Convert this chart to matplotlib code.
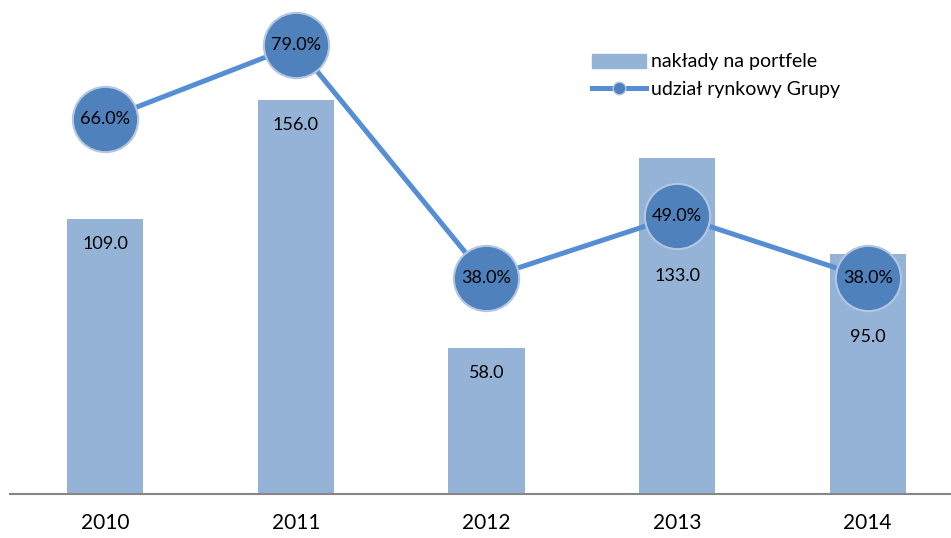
import numpy as np
import matplotlib.pyplot as plt
from matplotlib.lines import Line2D
from matplotlib.patches import Patch

plt.rcParams['font.family'] = ['Lato', 'DejaVu Sans']

years = ['2010', '2011', '2012', '2013', '2014']
spending = [109.0, 156.0, 58.0, 133.0, 95.0]
share = [66.0, 79.0, 38.0, 49.0, 38.0]
# shift of bar labels below bar top (points)
label_drop = [18, 18, 18, 85, 60]

bar_color = '#95B3D7'
line_color = '#558ED5'
dot_color = '#4F81BD'

fig = plt.figure(figsize=(9.51, 5.38), dpi=100)
ax = fig.add_axes([10 / 951, 44 / 538, 953 / 951, 494 / 538])
x = np.arange(len(years))

ax.bar(x, spending, width=0.4, color=bar_color, zorder=1)
for xi, v, d in zip(x, spending, label_drop):
    ax.annotate('%.1f' % v, (xi, v), xytext=(0, -d), textcoords='offset points',
                ha='center', va='center', fontsize=13, color='#000000')

ax.set_xlim(-0.5, 4.5)
ax.set_ylim(0, 195.6)
ax.set_xticks(x)
ax.set_xticklabels(years, fontsize=15)
ax.tick_params(axis='x', length=0, pad=14)
ax.set_yticks([])
for s in ['top', 'left', 'right']:
    ax.spines[s].set_visible(False)
ax.spines['bottom'].set_color('#868686')
ax.spines['bottom'].set_linewidth(1.5)

ax2 = ax.twinx()
ax2.plot(x, share, color=line_color, lw=3.6, marker='o', ms=47,
         markerfacecolor=dot_color, markeredgecolor='#B4C7E2', markeredgewidth=1.5,
         zorder=3)
for xi, v in zip(x, share):
    ax2.text(xi, v, '%.1f%%' % v, ha='center', va='center', fontsize=13,
             color='#000000', zorder=4)
ax2.set_ylim(0, 87)
ax2.set_yticks([])
for s in ['top', 'left', 'right', 'bottom']:
    ax2.spines[s].set_visible(False)

handles = [Patch(color=bar_color),
           Line2D([], [], color=line_color, lw=3.6, marker='o', ms=9,
                  markerfacecolor=dot_color, markeredgecolor='#B4C7E2')]
fig.legend(handles, ['nakłady na portfele', 'udział rynkowy Grupy'],
           loc='upper left', bbox_to_anchor=(574 / 951, 1 - 36 / 538),
           frameon=False, fontsize=14, handlelength=2.8, handletextpad=0.25,
           labelspacing=0.55)

fig.savefig('out.png', dpi=100)
